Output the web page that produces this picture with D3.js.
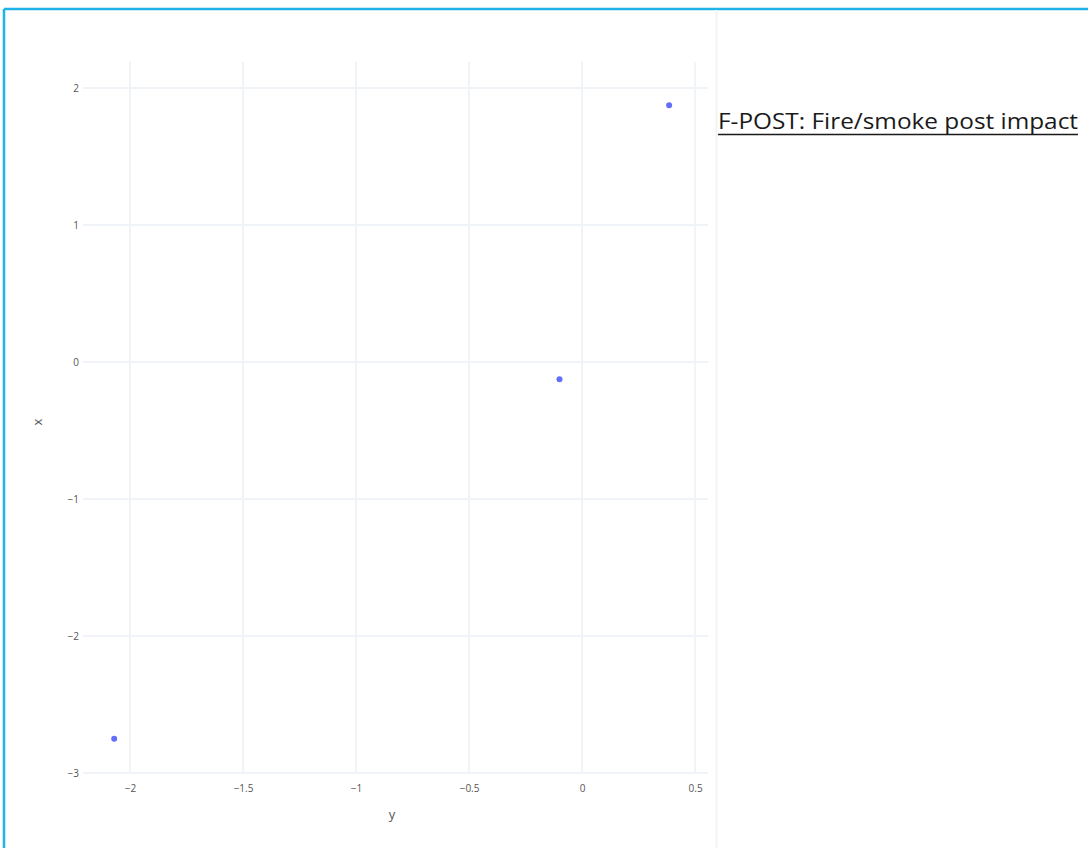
<!DOCTYPE html>
<html>
<head>
<meta charset="utf-8">
<script src="https://cdn.jsdelivr.net/npm/d3@7"></script>
<style>
  body { margin: 0; background: #fff; }
  svg { display: block; }
</style>
</head>
<body>
<div id="chart"></div>
<script>
// data: horizontal axis is "y", vertical is "x"
const yValues = [-2.07, -0.10, 0.385];
const xValues = [-2.75, -0.125, 1.875];
const yTicks = [-2, -1.5, -1, -0.5, 0, 0.5];
const xTicks = [-3, -2, -1, 0, 1, 2];
const titleText = "F-POST: Fire/smoke post impact";

const W = 1088, H = 848;
const plot = {left: 83, right: 708, top: 62, bottom: 773};

const svg = d3.select("#chart").append("svg")
  .attr("width", W)
  .attr("height", H);

// blue frame (top and left edges only visible)
svg.append("line").attr("x1", 4).attr("x2", W).attr("y1", 9).attr("y2", 9)
  .attr("stroke", "#1eb4e8").attr("stroke-width", 2.5);
svg.append("line").attr("x1", 4).attr("x2", 4).attr("y1", 9).attr("y2", H)
  .attr("stroke", "#1eb4e8").attr("stroke-width", 2.5);

// faint edge of the screenshot
svg.append("line").attr("x1", 716.5).attr("x2", 716.5).attr("y1", 10).attr("y2", H)
  .attr("stroke", "#f3f3f3").attr("stroke-width", 2);

const xScale = d3.scaleLinear()
  .domain([-2.208, 0.557])
  .range([plot.left, plot.right]);

const yScale = d3.scaleLinear()
  .domain([-3, 2.19])
  .range([plot.bottom, plot.top]);

// grid
svg.append("g")
  .selectAll("line")
  .data(yTicks)
  .join("line")
    .attr("x1", d => xScale(d)).attr("x2", d => xScale(d))
    .attr("y1", plot.top).attr("y2", plot.bottom)
    .attr("stroke", "#f0f3f8").attr("stroke-width", 2);

svg.append("g")
  .selectAll("line")
  .data(xTicks)
  .join("line")
    .attr("x1", plot.left).attr("x2", plot.right)
    .attr("y1", d => yScale(d)).attr("y2", d => yScale(d))
    .attr("stroke", "#f0f3f8").attr("stroke-width", 2);

// axes
const fmt = d => d3.format("")(d).replace("-", "\u2212");

const bottomAxis = svg.append("g")
  .attr("transform", "translate(0," + plot.bottom + ")")
  .call(d3.axisBottom(xScale).tickValues(yTicks).tickSize(0).tickPadding(12).tickFormat(fmt));
bottomAxis.select(".domain").remove();

const leftAxis = svg.append("g")
  .attr("transform", "translate(" + plot.left + ",0)")
  .call(d3.axisLeft(yScale).tickValues(xTicks).tickSize(0).tickPadding(4).tickFormat(fmt));
leftAxis.select(".domain").remove();

svg.selectAll(".tick text")
  .attr("font-family", "Open Sans, sans-serif")
  .attr("font-size", 10)
  .attr("fill", "#555");

svg.append("text")
  .attr("x", 392).attr("y", 819)
  .attr("text-anchor", "middle")
  .attr("font-family", "Open Sans, sans-serif")
  .attr("font-size", 13)
  .attr("fill", "#555")
  .text("y");

svg.append("text")
  .attr("transform", "translate(42,422) rotate(-90)")
  .attr("text-anchor", "middle")
  .attr("font-family", "Open Sans, sans-serif")
  .attr("font-size", 13)
  .attr("fill", "#555")
  .text("x");

// points
svg.append("g")
  .selectAll("circle")
  .data(yValues.map((v, i) => ({y: v, x: xValues[i]})))
  .join("circle")
    .attr("cx", d => xScale(d.y))
    .attr("cy", d => yScale(d.x))
    .attr("r", 3)
    .attr("fill", "#636efa");

// title
svg.append("text")
  .attr("x", 718).attr("y", 129)
  .attr("font-family", "Open Sans, sans-serif")
  .attr("font-size", 22)
  .attr("fill", "#1a1a1a")
  .attr("textLength", 360)
  .attr("lengthAdjust", "spacingAndGlyphs")
  .text(titleText);

svg.append("line")
  .attr("x1", 718).attr("x2", 1078)
  .attr("y1", 134.5).attr("y2", 134.5)
  .attr("stroke", "#1a1a1a").attr("stroke-width", 1.4);
</script>
</body>
</html>
